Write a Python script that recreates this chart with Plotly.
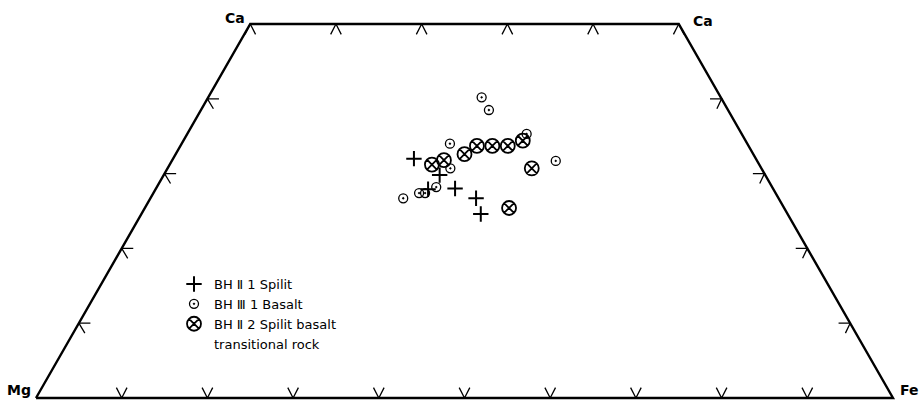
import math
import plotly.graph_objects as go

# ---------------- data (ternary %, Mg = 100 - Ca - Fe) ----------------
spilit_ca = [32.0, 29.8, 27.9, 28.0, 26.7, 24.6]
spilit_fe = [28.1, 32.2, 31.8, 34.9, 38.0, 39.6]

basalt_ca = [40.2, 38.5, 35.3, 34.0, 31.7, 30.7, 28.2, 27.4, 27.4, 26.7]
basalt_fe = [31.9, 33.6, 39.6, 31.3, 44.8, 33.0, 32.6, 31.0, 31.7, 29.5]

trans_ca = [31.2, 31.8, 32.6, 33.7, 33.7, 33.7, 34.4, 30.7, 25.4]
trans_fe = [30.6, 31.7, 33.7, 34.6, 36.4, 38.2, 39.6, 42.5, 42.5]

series_names = ["BH \u2161 1 Spilit", "BH \u2162 1 Basalt", "BH \u2161 2 Spilit basalt", "transitional rock"]
corner_labels = ["Ca", "Ca", "Mg", "Fe"]
ca_top = 50          # trapezoid truncated at Ca = 50 %
base_ticks = [10, 20, 30, 40, 50, 60, 70, 80, 90]   # Fe % along Mg-Fe base
top_ticks = [0, 10, 20, 30, 40, 50]                 # Fe % along Ca=50 line
side_ticks = [10, 20, 30, 40]                        # Ca % on the two sides

H = math.sqrt(3) / 2


def tx(ca, fe):
    return fe + ca / 2.0


def ty(ca):
    return ca * H


fig = go.Figure()

# frame
frame_ca = [0, 0, ca_top, ca_top, 0]
frame_fe = [0, 100, 100 - ca_top, 0, 0]
fig.add_trace(go.Scatter(x=[tx(c, f) for c, f in zip(frame_ca, frame_fe)],
                         y=[ty(c) for c in frame_ca], mode="lines",
                         line=dict(color="black", width=2.4), showlegend=False, hoverinfo="skip"))

# tick marks
a = 0.62   # half-width of chevrons (x units)
h = 1.2    # chevron height (y units)
tkx, tky = [], []
for f in base_ticks:
    x0, y0 = tx(0, f), ty(0)
    tkx += [x0 - a, x0, x0 + a, None]
    tky += [y0 + h, y0, y0 + h, None]
for f in top_ticks:
    x0, y0 = tx(ca_top, f), ty(ca_top)
    tkx += [x0 - a, x0, x0 + a, None]
    tky += [y0 - h, y0, y0 - h, None]
for c in side_ticks:
    x0, y0 = tx(c, 0), ty(c)
    tkx += [x0 + 1.35, x0, x0 + 0.7, None]
    tky += [y0, y0, y0 - 1.15, None]
    x1 = tx(c, 100 - c)
    tkx += [x1 - 1.35, x1, x1 - 0.55, None]
    tky += [y0, y0, y0 - 1.15, None]
fig.add_trace(go.Scatter(x=tkx, y=tky, mode="lines", line=dict(color="black", width=1.3),
                         showlegend=False, hoverinfo="skip"))

# data
fig.add_trace(go.Scatter(x=[tx(c, f) for c, f in zip(spilit_ca, spilit_fe)],
                         y=[ty(c) for c in spilit_ca], mode="markers", name=series_names[0],
                         marker=dict(symbol="cross-thin-open", size=11, color="black",
                                     line=dict(color="black", width=2))))
fig.add_trace(go.Scatter(x=[tx(c, f) for c, f in zip(basalt_ca, basalt_fe)],
                         y=[ty(c) for c in basalt_ca], mode="markers", name=series_names[1],
                         marker=dict(symbol="circle-open-dot", size=9, color="black",
                                     line=dict(color="black", width=1.3))))
fig.add_trace(go.Scatter(x=[tx(c, f) for c, f in zip(trans_ca, trans_fe)],
                         y=[ty(c) for c in trans_ca], mode="markers", name=series_names[2],
                         marker=dict(symbol="circle-x-open", size=14, color="black",
                                     line=dict(color="black", width=1.8))))
fig.add_trace(go.Scatter(x=[None], y=[None], mode="markers", name=series_names[3],
                         marker=dict(symbol="circle", size=1, color="rgba(0,0,0,0)",
                                     line=dict(width=0))))

# corner labels
lab_font = dict(family="DejaVu Sans", size=14, color="black")
fig.add_annotation(x=tx(ca_top, 0), y=ty(ca_top), text="<b>" + corner_labels[0] + "</b>", showarrow=False,
                   xanchor="right", yanchor="bottom", xshift=-3, yshift=-4, font=lab_font)
fig.add_annotation(x=tx(ca_top, 100 - ca_top), y=ty(ca_top), text="<b>" + corner_labels[1] + "</b>",
                   showarrow=False, xanchor="left", yanchor="bottom", xshift=12, yshift=-7, font=lab_font)
fig.add_annotation(x=tx(0, 0), y=ty(0), text="<b>" + corner_labels[2] + "</b>", showarrow=False,
                   xanchor="right", yanchor="bottom", xshift=-3, yshift=-2, font=lab_font)
fig.add_annotation(x=tx(0, 100), y=ty(0), text="<b>" + corner_labels[3] + "</b>", showarrow=False,
                   xanchor="left", yanchor="bottom", xshift=5, yshift=-2, font=lab_font)

# axis ranges chosen so the frame sits where it does in the figure (pixel anchors)
W, HT = 919, 401
px_l, px_r, py_b, py_t = 36, 893, 398, 24
sx = (px_r - px_l) / 100.0
sy = (py_b - py_t) / ty(ca_top)
xr = [-px_l / sx, (W - px_l) / sx]
yr = [-(HT - py_b) / sy, py_b / sy]

fig.update_layout(
    width=W, height=HT, margin=dict(l=0, r=0, t=0, b=0),
    plot_bgcolor="white", paper_bgcolor="white",
    xaxis=dict(range=xr, visible=False, showgrid=False, zeroline=False),
    yaxis=dict(range=yr, visible=False, showgrid=False, zeroline=False),
    legend=dict(x=174 / W, y=1 - 269 / HT, xanchor="left", yanchor="top",
                bgcolor="rgba(0,0,0,0)", font=dict(family="DejaVu Sans", size=13, color="black"),
                itemwidth=30, tracegroupgap=0),
    showlegend=True,
)

fig.write_html("out.html", config={"displayModeBar": False},
               post_script="document.body.style.margin='0';")
